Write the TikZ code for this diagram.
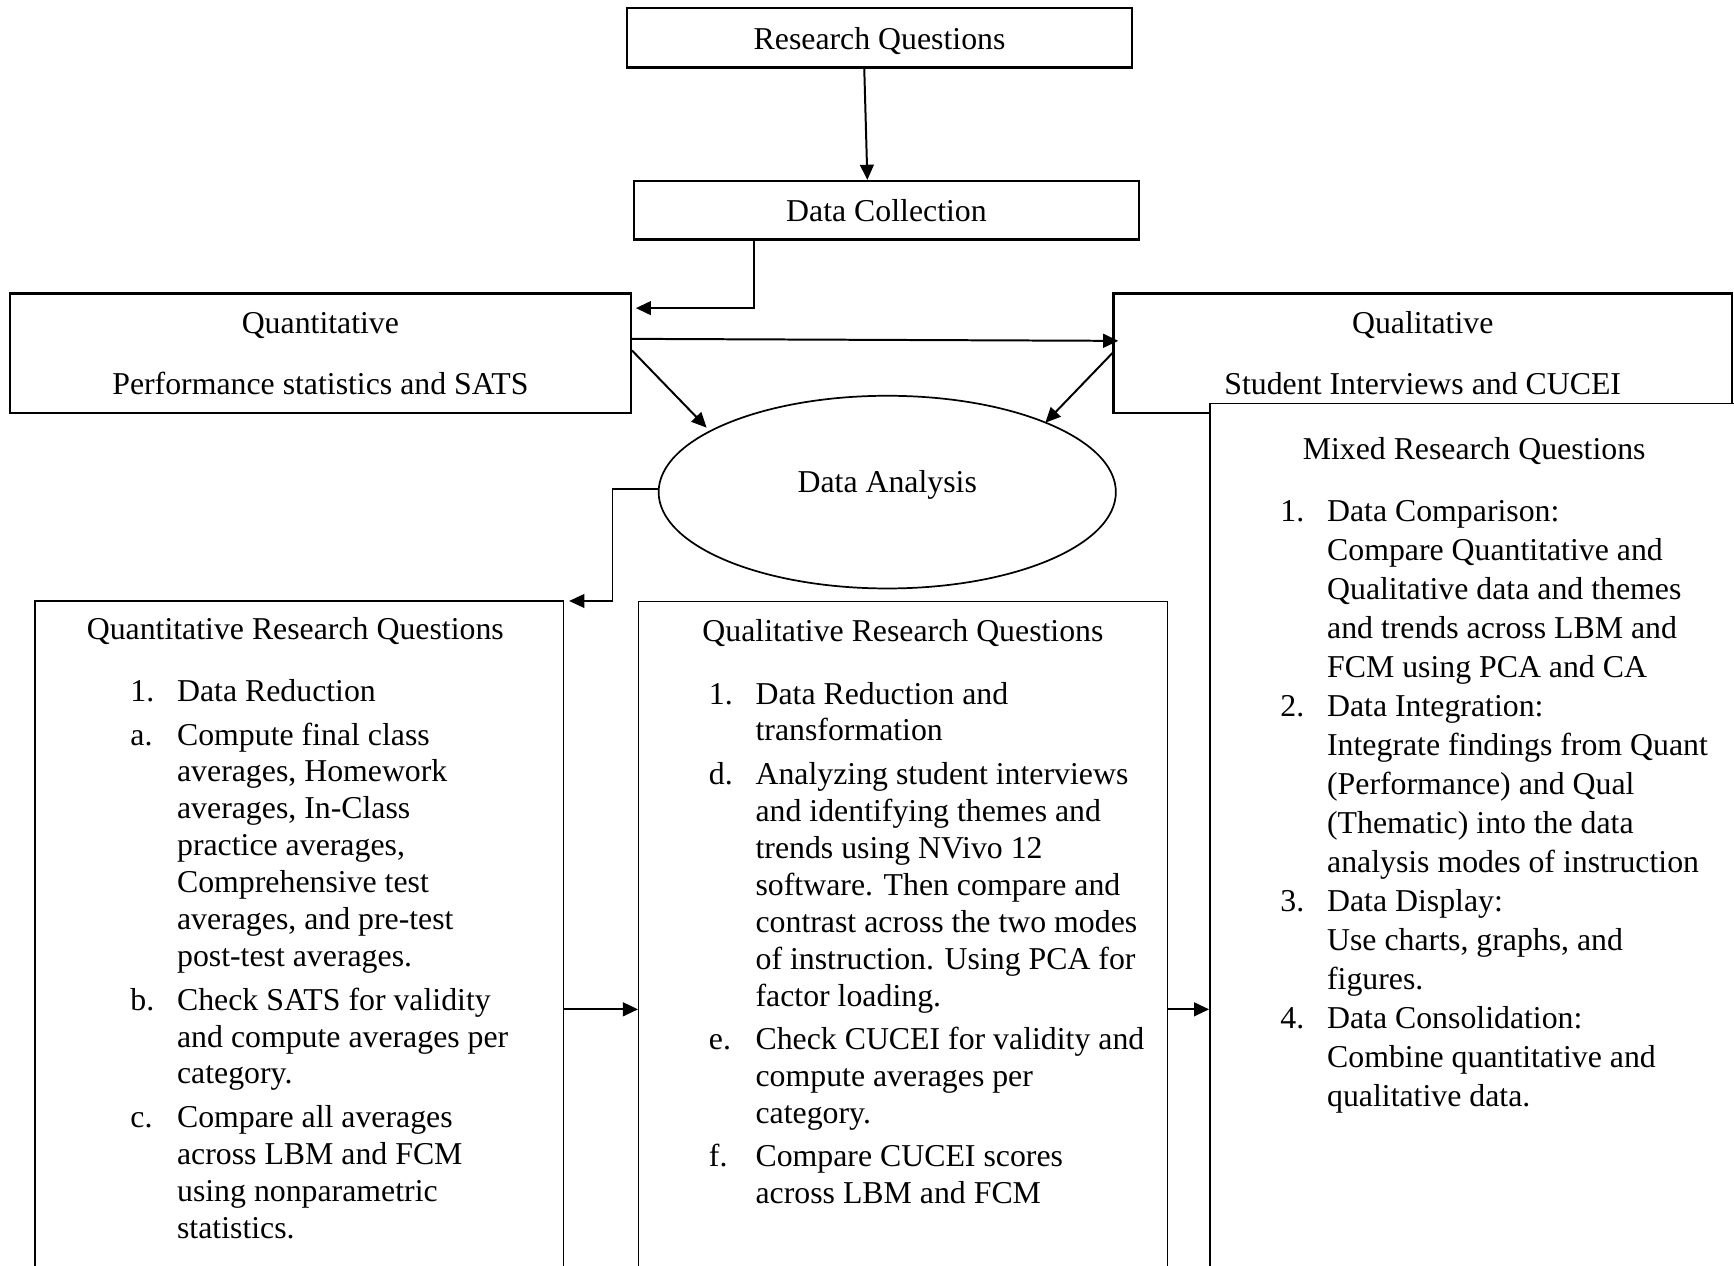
\documentclass[tikz,border=0pt]{standalone}
\usepackage{fontspec}
\setmainfont{Liberation Serif}
\usetikzlibrary{arrows.meta,calc,shapes.geometric}
\tikzset{
    boxsize/.style 2 args = {minimum width=#1*0.4172pt, minimum height=#2*0.4172pt},
    box/.style = {draw, rectangle, inner sep=0pt, line width=0.9pt, align=center},
    rqbox/.style = {draw, rectangle, inner sep=0pt, line width=0.55pt},
    stage/.style = {draw, ellipse, inner sep=0pt, line width=0.65pt,
        minimum width=172.5pt, minimum height=72.7pt},
    arrow/.style = {draw, -{Triangle[length=5.7pt,width=5.2pt]}, line width=0.75pt},
    thinarrow/.style = {draw, -{Triangle[length=5.7pt,width=5.2pt]}, line width=0.4pt},
    heading/.style = {anchor=base, inner sep=0pt},
    steps/.style = {anchor=base west, inner sep=0pt, align=left}
}

\begin{document}
\begin{tikzpicture}[x=0.4172pt,y=-0.4172pt,font=\fontsize{12}{13.93}\selectfont]
        \useasboundingbox (0,0) rectangle (1568,1144);
        \clip (0,0) rectangle (1568,1144);
        % top of the flow
        \node[box, boxsize={456.7}{53.7}, text depth=0pt] (rq) at (795.35,34.35) {Research Questions};
        \node[box, boxsize={456.8}{52.7}, text depth=0pt] (dc) at (801.6,190.05) {Data Collection};
        \node[box, boxsize={561.4}{108.4}] (quant) at (289.7,319.5) {Quantitative\\[9pt]Performance statistics and SATS};
        \node[box, boxsize={559}{108.4}] (qual) at (1286.5,319.5) {Qualitative\\[9pt]Student Interviews and CUCEI};
        \node[stage, text height=4pt, text depth=4pt] (analysis) at (802.3,445) {Data Analysis};
        % the three question boxes run past the bottom edge
        \node[rqbox, fill=white, boxsize={478}{805.3}] (mixed) at (1333,767.35) {};
        \node[rqbox, boxsize={477.9}{626.7}] (qnrq) at (270.55,856.65) {};
        \node[rqbox, boxsize={477.9}{626}] (qlrq) at (816.55,857) {};
        \coordinate (midy) at (0,912.7);

        \node[heading] (qntitle) at (267,578.6) {Quantitative Research Questions};
        \node[heading] (qltitle) at (816.5,580.3) {Qualitative Research Questions};
        \node[heading] (mxtitle) at (1333,415.4) {Mixed Research Questions};

        \node[steps] (qnlist) at (117.5,634.3) {\begin{tabular}[t]{@{}p{17.6pt}@{}l@{}}
            1. & Data Reduction\\[2.5pt]
            a. & Compute final class\\
               & averages, Homework\\
               & averages, In-Class\\
               & practice averages,\\
               & Comprehensive test\\
               & averages, and pre-test\\
               & post-test averages.\\[2.5pt]
            b. & Check SATS for validity\\
               & and compute averages per\\
               & category.\\[2.5pt]
            c. & Compare all averages\\
               & across LBM and FCM\\
               & using nonparametric\\
               & statistics.
        \end{tabular}};
        \node[steps] (qllist) at (640.6,636.6) {\begin{tabular}[t]{@{}p{17.6pt}@{}l@{}}
            1. & Data Reduction and\\
               & transformation\\[2.5pt]
            d. & Analyzing student interviews\\
               & and identifying themes and\\
               & trends using NVivo 12\\
               & software. Then compare and\\
               & contrast across the two modes\\
               & of instruction. Using PCA for\\
               & factor loading.\\[2.5pt]
            e. & Check CUCEI for validity and\\
               & compute averages per\\
               & category.\\[2.5pt]
            f. & Compare CUCEI scores\\
               & across LBM and FCM
        \end{tabular}};
        \node[steps, font=\fontsize{12}{14.69}\selectfont] (mxlist) at (1157.4,472) {\begin{tabular}[t]{@{}p{17.6pt}@{}l@{}}
            1. & Data Comparison:\\
               & Compare Quantitative and\\
               & Qualitative data and themes\\
               & and trends across LBM and\\
               & FCM using PCA and CA\\
            2. & Data Integration:\\
               & Integrate findings from Quant\\
               & (Performance) and Qual\\
               & (Thematic) into the data\\
               & analysis modes of instruction\\
            3. & Data Display:\\
               & Use charts, graphs, and\\
               & figures.\\
            4. & Data Consolidation:\\
               & Combine quantitative and\\
               & qualitative data.
        \end{tabular}};

        % connectors
        \draw[arrow] ($(rq.south west)+(215.6,0)$) -- ($(dc.north west)+(212.2,0)$);
        \draw[arrow] ($(dc.south west)+(110.1,0)$) |- ($(quant.north east)+(3.5,14.4)$);
        \draw[arrow] ($(quant.north east)+(0,42.2)$) -- ($(qual.north west)+(5.3,44)$);
        \draw[arrow] ($(quant.north east)+(0,52.7)$) -- ($(analysis.center)+(-163.3,-58.3)$);
        \draw[arrow] ($(qual.north west)+(0,55)$) -- ($(analysis.center)+(143,-62.8)$);
        \draw[thinarrow] ($(analysis.west)+(0,-2.8)$) -- ++(-40.7,0) |- ($(qnrq.north east)+(4.5,0.8)$);
        \draw[arrow] (qnrq.east |- midy) -- (qlrq.west |- midy);
        \draw[arrow] (qlrq.east |- midy) -- (mixed.west |- midy);
\end{tikzpicture}
\end{document}
